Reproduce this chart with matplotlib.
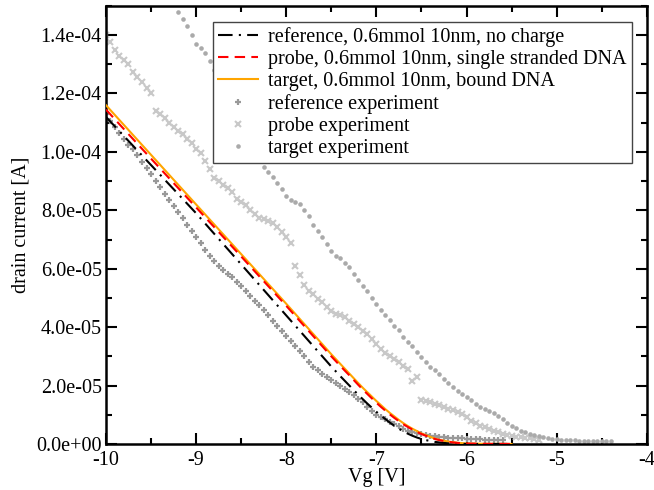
import matplotlib
matplotlib.use("Agg")
import matplotlib.pyplot as plt
from matplotlib.ticker import FuncFormatter, MultipleLocator

plt.rcParams['font.family'] = ['Liberation Serif', 'DejaVu Serif']

# ---------------- simulation curves (V, A*1e-5) ----------------
sim_v = [-10.0, -9.5, -9.0, -8.5, -8.0, -7.5, -7.4, -7.3, -7.2, -7.15, -7.1, -7.05,
         -7.0, -6.95, -6.9, -6.85, -6.8, -6.75, -6.7, -6.65, -6.6, -6.55, -6.5,
         -6.45, -6.4, -6.35, -6.3, -6.25, -6.2, -6.1, -6.0, -5.8, -5.5]
sim_ref = [11.2, 9.55, 7.9, 6.15, 4.4, 2.65, 2.32, 2.0, 1.68, 1.53, 1.38, 1.24,
           1.10, 0.97, 0.85, 0.73, 0.62, 0.52, 0.43, 0.35, 0.28, 0.22, 0.17,
           0.13, 0.10, 0.07, 0.05, 0.035, 0.02, 0.01, 0.0, 0.0, 0.0]
sim_probe = [11.45, 9.77, 8.1, 6.42, 4.73, 3.0, 2.67, 2.35, 2.02, 1.86, 1.71, 1.56,
             1.41, 1.27, 1.14, 1.01, 0.89, 0.78, 0.67, 0.58, 0.49, 0.41, 0.34,
             0.28, 0.22, 0.17, 0.13, 0.10, 0.07, 0.035, 0.015, 0.003, 0.0]
sim_target = [11.6, 9.9, 8.2, 6.5, 4.8, 3.07, 2.74, 2.41, 2.08, 1.92, 1.77, 1.62,
              1.47, 1.33, 1.19, 1.06, 0.94, 0.82, 0.71, 0.61, 0.52, 0.44, 0.36,
              0.30, 0.24, 0.18, 0.14, 0.11, 0.08, 0.04, 0.015, 0.003, 0.0]

# ---------------- experiments (V, A*1e-5) ----------------
ref_exp_v = [-10.00, -9.95, -9.90, -9.85, -9.80, -9.75, -9.70, -9.65, -9.60, -9.55,
             -9.50, -9.45, -9.40, -9.35, -9.30, -9.25, -9.20, -9.15, -9.10, -9.05,
             -9.00, -8.95, -8.90, -8.85, -8.80, -8.75, -8.70, -8.65, -8.60, -8.55,
             -8.50, -8.45, -8.40, -8.35, -8.30, -8.25, -8.20, -8.15, -8.10, -8.05,
             -8.00, -7.95, -7.90, -7.85, -7.80, -7.75, -7.70, -7.65, -7.60, -7.55,
             -7.50, -7.45, -7.40, -7.35, -7.30, -7.25, -7.20, -7.15, -7.10, -7.05,
             -7.00, -6.95, -6.90, -6.85, -6.80, -6.75, -6.70, -6.65, -6.60, -6.55,
             -6.50, -6.45, -6.40, -6.35, -6.30, -6.25, -6.20, -6.15, -6.10, -6.05,
             -6.00, -5.95, -5.90, -5.85, -5.80, -5.75, -5.70, -5.65, -5.60]
ref_exp_i = [11.3, 11.05, 10.85, 10.65, 10.45, 10.25, 10.1, 9.88, 9.65, 9.45,
             9.25, 9.02, 8.8, 8.57, 8.35, 8.15, 7.95, 7.72, 7.5, 7.3,
             7.1, 6.87, 6.65, 6.45, 6.25, 6.1, 5.95, 5.82, 5.7, 5.55,
             5.4, 5.22, 5.05, 4.9, 4.75, 4.57, 4.4, 4.22, 4.05, 3.87,
             3.7, 3.52, 3.35, 3.17, 3.0, 2.82, 2.65, 2.52, 2.4, 2.3,
             2.2, 2.1, 2.0, 1.89, 1.78, 1.66, 1.55, 1.42, 1.28, 1.14,
             1.0, 0.92, 0.85, 0.76, 0.68, 0.6, 0.52, 0.46, 0.4, 0.36,
             0.33, 0.3, 0.28, 0.26, 0.24, 0.23, 0.22, 0.21, 0.2, 0.19,
             0.18, 0.17, 0.16, 0.16, 0.15, 0.14, 0.14, 0.13, 0.13]

probe_exp_v = [-10.00, -9.95, -9.90, -9.85, -9.80, -9.75, -9.70, -9.65, -9.60, -9.55,
               -9.50, -9.45, -9.40, -9.35, -9.30, -9.25, -9.20, -9.15, -9.10, -9.05,
               -9.00, -8.95, -8.90, -8.85, -8.80, -8.75, -8.70, -8.65, -8.60, -8.55,
               -8.50, -8.45, -8.40, -8.35, -8.30, -8.25, -8.20, -8.15, -8.10, -8.05,
               -8.00, -7.95, -7.90, -7.85, -7.80, -7.75, -7.70, -7.65, -7.60, -7.55,
               -7.50, -7.45, -7.40, -7.35, -7.30, -7.25, -7.20, -7.15, -7.10, -7.05,
               -7.00, -6.95, -6.90, -6.85, -6.80, -6.75, -6.70, -6.65, -6.60, -6.55,
               -6.50, -6.45, -6.40, -6.35, -6.30, -6.25, -6.20, -6.15, -6.10, -6.05,
               -6.00, -5.95, -5.90, -5.85, -5.80, -5.75, -5.70, -5.65, -5.60, -5.55,
               -5.50, -5.45, -5.40, -5.35, -5.30, -5.25, -5.20]
probe_exp_i = [14.0, 13.75, 13.5, 13.3, 13.15, 13.0, 12.75, 12.55, 12.4, 12.2,
               12.0, 11.4, 11.3, 11.15, 11.0, 10.85, 10.7, 10.6, 10.45, 10.3,
               10.1, 9.95, 9.7, 9.4, 9.1, 9.0, 8.88, 8.75, 8.62, 8.4,
               8.3, 8.18, 8.0, 7.87, 7.75, 7.7, 7.65, 7.56, 7.42, 7.26,
               7.08, 6.88, 6.1, 5.8, 5.45, 5.25, 5.12, 4.98, 4.85, 4.68,
               4.55, 4.44, 4.4, 4.33, 4.22, 4.12, 4.0, 3.88, 3.75, 3.6,
               3.42, 3.25, 3.12, 3.0, 2.9, 2.8, 2.68, 2.55, 2.15, 2.3,
               1.51, 1.48, 1.43, 1.38, 1.32, 1.27, 1.21, 1.15, 1.1, 1.02,
               0.92, 0.8, 0.7, 0.63, 0.57, 0.52, 0.46, 0.4, 0.35, 0.31,
               0.28, 0.25, 0.23, 0.21, 0.19, 0.16, 0.14]

target_exp_v = [-9.20, -9.15, -9.10, -9.05, -9.00, -8.95, -8.90, -8.85, -8.80, -8.75,
                -8.70, -8.65, -8.60, -8.55, -8.50, -8.45, -8.40, -8.35, -8.30, -8.25,
                -8.20, -8.15, -8.10, -8.05, -8.00, -7.95, -7.90, -7.85, -7.80, -7.75,
                -7.70, -7.65, -7.60, -7.55, -7.50, -7.45, -7.40, -7.35, -7.30, -7.25,
                -7.20, -7.15, -7.10, -7.05, -7.00, -6.95, -6.90, -6.85, -6.80, -6.75,
                -6.70, -6.65, -6.60, -6.55, -6.50, -6.45, -6.40, -6.35, -6.30, -6.25,
                -6.20, -6.15, -6.10, -6.05, -6.00, -5.95, -5.90, -5.85, -5.80, -5.75,
                -5.70, -5.65, -5.60, -5.55, -5.50, -5.45, -5.40, -5.35, -5.30, -5.25,
                -5.20, -5.15, -5.10, -5.05, -5.00, -4.95, -4.90, -4.85, -4.80, -4.75,
                -4.70, -4.65, -4.60, -4.55, -4.50, -4.45, -4.40]
target_exp_i = [14.8, 14.55, 14.3, 14.0, 13.7, 13.55, 13.4, 13.1, 12.8, 12.5,
                12.2, 11.9, 11.6, 11.3, 11.0, 10.7, 10.4, 10.1, 9.8, 9.48,
                9.3, 9.14, 8.95, 8.73, 8.5, 8.35, 8.28, 8.22, 8.02, 7.8,
                7.5, 7.3, 7.1, 6.85, 6.6, 6.45, 6.38, 6.2, 6.05, 5.82,
                5.6, 5.42, 5.24, 5.0, 4.78, 4.6, 4.42, 4.24, 4.05, 3.9,
                3.65, 3.5, 3.35, 3.15, 2.98, 2.8, 2.65, 2.52, 2.38, 2.24,
                2.1, 1.95, 1.82, 1.72, 1.61, 1.5, 1.38, 1.27, 1.18, 1.12,
                1.05, 0.95, 0.84, 0.72, 0.62, 0.54, 0.46, 0.4, 0.34, 0.3,
                0.26, 0.23, 0.2, 0.18, 0.16, 0.15, 0.14, 0.13, 0.12, 0.11,
                0.11, 0.1, 0.1, 0.1, 0.1, 0.1, 0.1]

SCALE = 1e-5
labels = ["reference, 0.6mmol 10nm, no charge",
          "probe, 0.6mmol 10nm, single stranded DNA",
          "target, 0.6mmol 10nm, bound DNA",
          "reference experiment",
          "probe experiment",
          "target experiment"]

FS = 14.5

fig = plt.figure(figsize=(6.54, 4.90), dpi=100)
ax = fig.add_axes([0.162, 0.094, 0.827, 0.894])

def sc(vals):
    return [v * SCALE for v in vals]

# experiments
h4, = ax.plot(ref_exp_v, sc(ref_exp_i), linestyle='none', marker='+',
              color='#999999', markersize=4.8, markeredgewidth=1.6, zorder=2)
h5, = ax.plot(probe_exp_v, sc(probe_exp_i), linestyle='none', marker='x',
              color='#c8c8c8', markersize=3.8, markeredgewidth=1.5, zorder=2)
h6, = ax.plot(target_exp_v, sc(target_exp_i), linestyle='none', marker='o',
              color='#aaaaaa', markersize=3.3, markeredgewidth=0, zorder=2)

# simulations
h1, = ax.plot(sim_v, sc(sim_ref), color='black', linewidth=1.5,
              dashes=[7, 3, 1, 3], zorder=4)
h2, = ax.plot(sim_v, sc(sim_probe), color='red', linewidth=1.5,
              dashes=[5, 3], zorder=4)
h3, = ax.plot(sim_v, sc(sim_target), color='orange', linewidth=1.5, zorder=3)

ax.set_xlim(-10, -4)
ax.set_ylim(0, 1.5e-4)

ax.xaxis.set_major_locator(MultipleLocator(1))
ax.xaxis.set_minor_locator(MultipleLocator(0.5))
ax.yaxis.set_major_locator(MultipleLocator(2e-5))
ax.yaxis.set_minor_locator(MultipleLocator(1e-5))
ax.xaxis.set_major_formatter(FuncFormatter(lambda v, p: "%d" % round(v)))
ax.yaxis.set_major_formatter(FuncFormatter(lambda v, p: "%.1e" % v))

ax.tick_params(which='both', direction='in', top=True, right=True, width=1.5,
               labelsize=FS)
ax.tick_params(which='major', length=8)
ax.tick_params(axis='y', which='major', pad=3)
ax.tick_params(axis='x', which='major', pad=5)
ax.tick_params(which='minor', length=4.5)
for s in ax.spines.values():
    s.set_linewidth(1.8)

ax.set_xlabel("Vg [V]", fontsize=FS, labelpad=-1)
ax.set_ylabel("drain current [A]", fontsize=FS, labelpad=4)

leg = ax.legend([h1, h2, h3, h4, h5, h6], labels, loc='upper right',
                bbox_to_anchor=(0.972, 0.963), fontsize=FS, frameon=True,
                fancybox=False, framealpha=1, edgecolor='#444444',
                handlelength=2.0, handletextpad=0.5, labelspacing=0.15,
                borderpad=0.25, borderaxespad=0, markerscale=1.0)
leg.get_frame().set_linewidth(1.0)

fig.savefig("out.png", dpi=100)
